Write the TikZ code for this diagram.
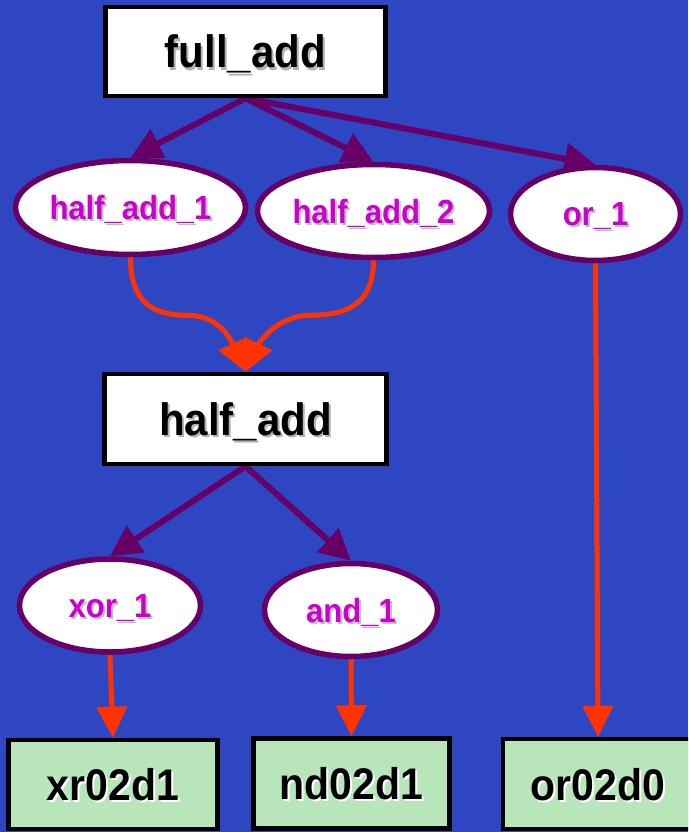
\documentclass[tikz,border=0pt]{standalone}
\usepackage{fontspec}
\setmainfont{Liberation Sans}
\usetikzlibrary{shapes.geometric,arrows.meta,backgrounds}

\definecolor{slide}{RGB}{46,70,194}
\definecolor{plum}{RGB}{102,0,102}
\definecolor{orchid}{RGB}{204,0,204}
\definecolor{wire}{RGB}{255,51,0}
\definecolor{cellgreen}{RGB}{184,230,186}

% label with a small drop shadow behind it, a little taller than the font
\newcommand{\shd}[2]{\scalebox{1}[1.08]{\makebox[0pt][l]{\kern2pt\raisebox{-2pt}{\textcolor{#1}{#2}}}#2}}

\begin{document}
\begin{tikzpicture}[x=1pt,y=-1pt,
    unit/.style={draw=black,line width=4.5pt,fill=white,inner sep=0pt,text depth=0pt,
      font=\fontsize{42}{42}\selectfont\bfseries},
    cell/.style={unit,fill=cellgreen,font=\fontsize{41}{41}\selectfont\bfseries},
    inst/.style={ellipse,draw=plum,line width=5.5pt,fill=white,inner sep=0pt,text depth=0pt,
      minimum height=93pt,text=orchid,font=\fontsize{31}{31}\selectfont\bfseries},
    use/.style={draw=plum,line width=6pt,-{Triangle[length=31pt,width=31pt]}},
    map/.style={draw=wire,line width=5pt,-{Triangle[length=31pt,width=30pt]}}]
      \useasboundingbox (0,0) rectangle (688,832);
      \clip (0,0) rectangle (688,832);

      % design units
      \node[unit,minimum width=280pt,minimum height=89pt] (Fa) at (245.5,51.5) {\shd{gray!60}{full\_add}};
      \node[unit,minimum width=282pt,minimum height=90pt] (Ha) at (245.5,419) {\shd{gray!60}{half\_add}};

      % instances
      \node[inst,minimum width=230pt,minimum height=94pt] (Ha1) at (130.5,207.5) {\shd{gray!50}{half\_add\_1}};
      \node[inst,minimum width=232pt] (Ha2) at (373.5,211) {\shd{gray!50}{half\_add\_2}};
      \node[inst,minimum width=170pt] (Or1) at (595.5,214) {\shd{gray!50}{or\_1}};
      \node[inst,minimum width=181pt] (Xo)  at (110,605.5) {\shd{gray!50}{xor\_1}};
      \node[inst,minimum width=173pt] (An)  at (351,610) {\shd{gray!50}{and\_1}};

      % library cells
      \node[cell,minimum width=209pt,minimum height=89pt] (Xr) at (113,784.5) {\shd{white}{xr02d1}};
      \node[cell,minimum width=196pt,minimum height=90pt] (Nd) at (351.5,783.5) {\shd{white}{nd02d1}};
      \node[cell,minimum width=190pt,minimum height=90pt] (Od) at (598,784) {\shd{white}{or02d0}};

      \begin{scope}[on background layer]
        \fill[slide] (0,0) rectangle (688,832);
        \draw[use] (Fa.south) -- (Ha1.north);
        \draw[use] (Fa.south) -- (Ha2.north);
        \draw[use] (Fa.south) -- (Or1.north);
        \draw[use] (Ha.south) -- (Xo.north);
        \draw[use] (Ha.south) -- (An.north);
        \draw[map] (Ha1.south) .. controls +(0,45) and +(-35,0) .. ++(57,58)
                               .. controls +(35,0) and +(-12,-26) .. (Ha.north);
        \draw[map] (Ha2.south) .. controls +(0,45) and +(35,0) .. ++(-63,55)
                               .. controls +(-35,0) and +(12,-26) .. (Ha.north);
        \draw[map] (Xo.south) -- (Xr.north);
        \draw[map] (An.south) -- (Nd.north);
        \draw[map] (Or1.south) -- (Od.north);
      \end{scope}
    \end{tikzpicture}
\end{document}
